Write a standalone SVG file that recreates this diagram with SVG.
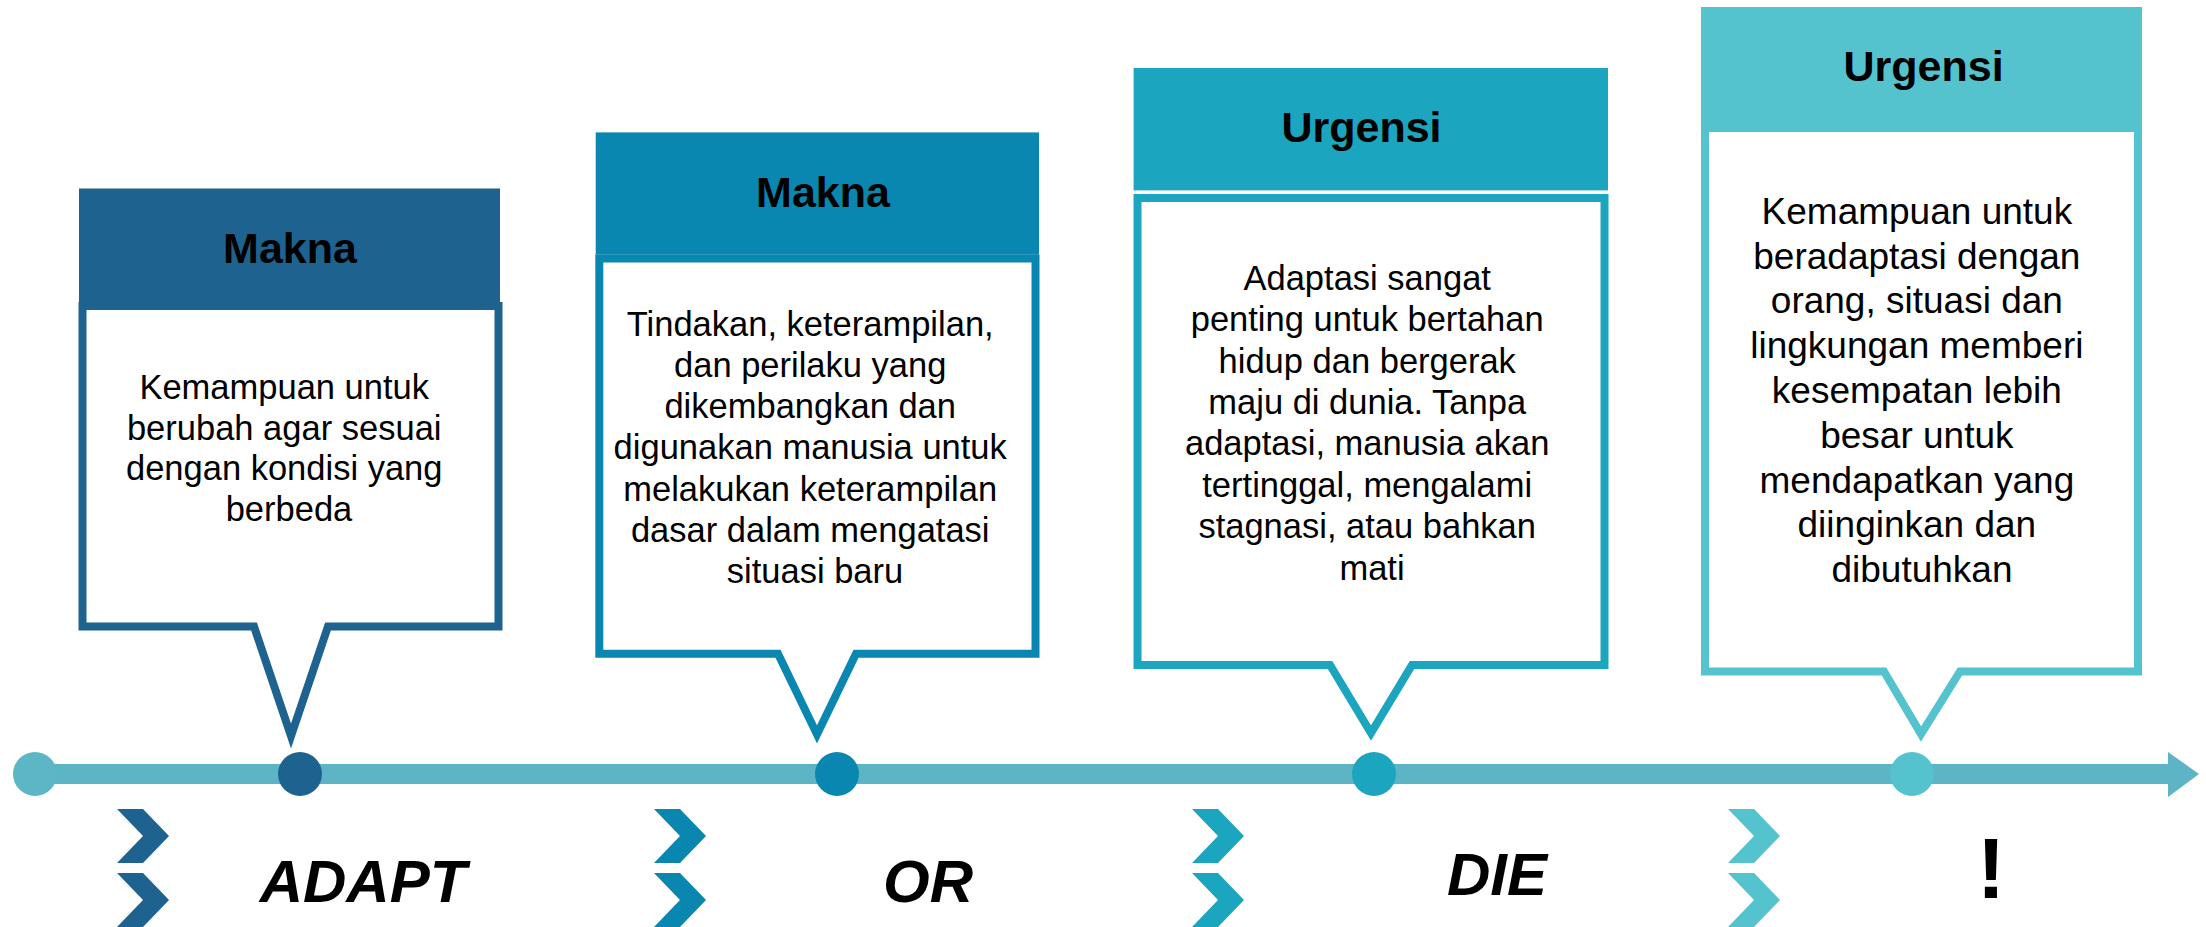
<svg xmlns="http://www.w3.org/2000/svg" width="2206" height="927" viewBox="0 0 2206 927">
  <style>
    text { font-family: "Liberation Sans", Arial, sans-serif; fill: #000; text-anchor: middle; }
    .head { font-size: 43px; font-weight: bold; }
    .body { font-size: 34.5px; }
    .body4 { font-size: 37px; }
    .word { font-size: 60px; font-weight: bold; font-style: italic; }
    .callout { fill: #fff; stroke-width: 8; stroke-linejoin: miter; stroke-miterlimit: 10; }
  </style>
  <defs>
    <polygon id="chev" points="0,0 26,0 52,27 26,54 0,54 26,27"/>
  </defs>

  <rect width="2206" height="927" fill="#fff"/>

  <!-- timeline axis -->
  <g id="connectors">
    <rect x="35" y="764" width="2137" height="20" fill="#5CB4C4"/>
    <polygon points="2168,752 2199,774 2168,797" fill="#5CB4C4"/>
  </g>

  <!-- timeline markers -->
  <g id="markers">
    <circle cx="35" cy="774" r="22" fill="#5DB6C5"/>
    <circle cx="300" cy="774" r="22" fill="#1E6390"/>
    <circle cx="837" cy="774" r="22" fill="#0A87B0"/>
    <circle cx="1374" cy="774" r="22" fill="#1CA5BE"/>
    <circle cx="1912" cy="774" r="22" fill="#55C3CE"/>
  </g>

  <!-- stage 1: Makna -->
  <g id="node-makna-1">
    <path class="callout" stroke="#1E6390" d="M82.5,306 H498.5 V626.5 H328 L291,736 L254,626.5 H82.5 Z"/>
    <rect x="79" y="188.5" width="421" height="121.5" fill="#1E6390"/>
    <text class="head" x="290" y="263">Makna</text>
    <text class="body" x="289">
      <tspan x="289" y="399">Kemampuan untuk</tspan>
      <tspan x="289" y="439.5">berubah agar sesuai</tspan>
      <tspan x="289" y="480">dengan kondisi yang</tspan>
      <tspan x="289" y="520.5">berbeda</tspan>
    </text>
  </g>

  <!-- stage 2: Makna -->
  <g id="node-makna-2">
    <path class="callout" stroke="#0A87B0" stroke-width="7.5" d="M599.3,258.5 H1035.5 V653.7 H856 L817,734.4 L778,653.7 H599.3 Z"/>
    <rect x="595.7" y="132.4" width="443.3" height="122.3" fill="#0A87B0"/>
    <text class="head" x="823" y="207">Makna</text>
    <text class="body">
      <tspan x="815" y="335.5">Tindakan, keterampilan,</tspan>
      <tspan x="815" y="376.8">dan perilaku yang</tspan>
      <tspan x="815" y="418.1">dikembangkan dan</tspan>
      <tspan x="815" y="459.4">digunakan manusia untuk</tspan>
      <tspan x="815" y="500.7">melakukan keterampilan</tspan>
      <tspan x="815" y="542">dasar dalam mengatasi</tspan>
      <tspan x="815" y="583.3">situasi baru</tspan>
    </text>
  </g>

  <!-- stage 3: Urgensi -->
  <g id="node-urgensi-1">
    <path class="callout" stroke="#1CA5BE" d="M1137.5,198 H1604.5 V665 H1412 L1371,733 L1330,665 H1137.5 Z"/>
    <rect x="1133.6" y="68" width="474.4" height="122.4" fill="#1CA5BE"/>
    <text class="head" x="1361.5" y="142.4">Urgensi</text>
    <text class="body">
      <tspan x="1372" y="289.6">Adaptasi sangat</tspan>
      <tspan x="1372" y="331.1">penting untuk bertahan</tspan>
      <tspan x="1372" y="372.5">hidup dan bergerak</tspan>
      <tspan x="1372" y="414">maju di dunia. Tanpa</tspan>
      <tspan x="1372" y="455.4">adaptasi, manusia akan</tspan>
      <tspan x="1372" y="496.9">tertinggal, mengalami</tspan>
      <tspan x="1372" y="538.3">stagnasi, atau bahkan</tspan>
      <tspan x="1372" y="579.8">mati</tspan>
    </text>
  </g>

  <!-- stage 4: Urgensi -->
  <g id="node-urgensi-2">
    <path class="callout" stroke="#55C3CE" d="M1705,128 H2138 V671.5 H1960 L1921,734 L1884,671.5 H1705 Z"/>
    <rect x="1701" y="7" width="441" height="125" fill="#55C3CE"/>
    <text class="head" x="1923.6" y="81">Urgensi</text>
    <text class="body4">
      <tspan x="1922" y="223.8">Kemampuan untuk</tspan>
      <tspan x="1922" y="268.6">beradaptasi dengan</tspan>
      <tspan x="1922" y="313.4">orang, situasi dan</tspan>
      <tspan x="1922" y="358.1">lingkungan memberi</tspan>
      <tspan x="1922" y="402.9">kesempatan lebih</tspan>
      <tspan x="1922" y="447.7">besar untuk</tspan>
      <tspan x="1922" y="492.5">mendapatkan yang</tspan>
      <tspan x="1922" y="537.3">diinginkan dan</tspan>
      <tspan x="1922" y="582">dibutuhkan</tspan>
    </text>
  </g>

  <!-- chevrons and keywords under the axis -->
  <g id="label-adapt">
    <use href="#chev" x="117" y="809" fill="#1E6390"/>
    <use href="#chev" x="117" y="873" fill="#1E6390"/>
    <text class="word" x="363" y="902">ADAPT</text>
  </g>
  <g id="label-or">
    <use href="#chev" x="654" y="809" fill="#0A87B0"/>
    <use href="#chev" x="654" y="873" fill="#0A87B0"/>
    <text class="word" x="928" y="902">OR</text>
  </g>
  <g id="label-die">
    <use href="#chev" x="1192" y="809" fill="#1CA5BE"/>
    <use href="#chev" x="1192" y="873" fill="#1CA5BE"/>
    <text class="word" x="1497" y="895">DIE</text>
  </g>
  <g id="label-bang">
    <use href="#chev" x="1728" y="809" fill="#55C3CE"/>
    <use href="#chev" x="1728" y="873" fill="#55C3CE"/>
    <text x="1991" y="898" style="font-size:86px;font-weight:bold">!</text>
  </g>
</svg>
